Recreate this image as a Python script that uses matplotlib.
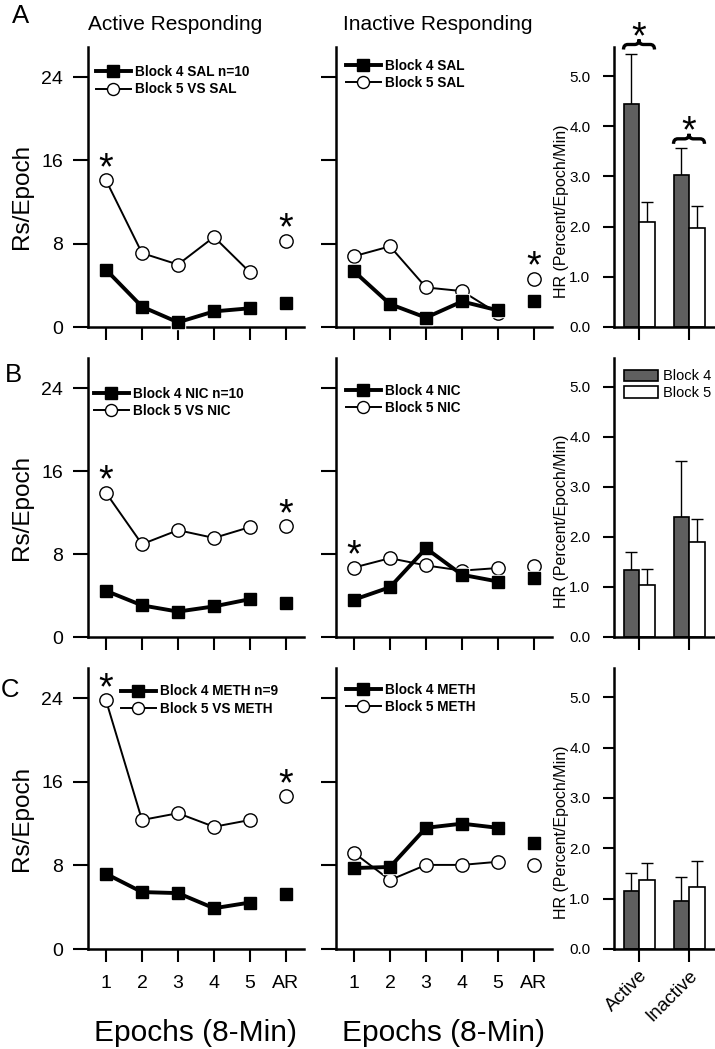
import numpy as np
import matplotlib
matplotlib.use('Agg')
import matplotlib.pyplot as plt
from matplotlib.path import Path
from matplotlib.patches import PathPatch, Patch

plt.rcParams['font.family'] = ['Liberation Sans', 'DejaVu Sans']

# ---- data ----
epochs = ['1', '2', '3', '4', '5', 'AR']
panels = ['A', 'B', 'C']

# rows: SAL, NIC, METH
act_b4 = [[5.5, 1.95, 0.45, 1.5, 1.8, 2.3],
          [4.45, 3.05, 2.45, 2.95, 3.65, 3.25],
          [7.2, 5.45, 5.35, 3.9, 4.45, 5.25]]
act_b5 = [[14.1, 7.1, 6.0, 8.65, 5.25, 8.3],
          [13.9, 8.95, 10.3, 9.55, 10.6, 10.7],
          [23.8, 12.35, 13.0, 11.7, 12.35, 14.6]]
inact_b4 = [[5.35, 2.2, 0.9, 2.45, 1.6, 2.5],
            [3.6, 4.8, 8.55, 6.0, 5.35, 5.65],
            [7.75, 7.85, 11.6, 12.0, 11.6, 10.15]]
inact_b5 = [[6.8, 7.75, 3.8, 3.45, 1.3, 4.65],
            [6.7, 7.6, 6.9, 6.4, 6.65, 6.85],
            [9.2, 6.6, 8.05, 8.05, 8.35, 8.05]]

act_stars = [[0, 5], [0, 5], [0, 5]]
inact_stars = [[5], [0], []]

act_labels = [['Block 4 SAL n=10', 'Block 5 VS SAL'],
              ['Block 4 NIC n=10', 'Block 5 VS NIC'],
              ['Block 4 METH n=9', 'Block 5 VS METH']]
inact_labels = [['Block 4 SAL', 'Block 5 SAL'],
                ['Block 4 NIC', 'Block 5 NIC'],
                ['Block 4 METH', 'Block 5 METH']]

hr_groups = ['Active', 'Inactive']
hr_b4 = [[4.45, 3.02], [1.35, 2.40], [1.15, 0.96]]
hr_b4_err = [[1.0, 0.55], [0.36, 1.12], [0.36, 0.47]]
hr_b5 = [[2.10, 1.97], [1.04, 1.90], [1.38, 1.23]]
hr_b5_err = [[0.39, 0.45], [0.32, 0.46], [0.33, 0.51]]
hr_sig = [[True, True], [False, False], [False, False]]

# ---- layout (pixels of the 715x1049 figure) ----
W, H = 715, 1049
cols = [(88, 304), (336, 552), (614, 715)]
rows = [(47, 327), (358, 637), (668, 949)]
act_leg = [(0.035, 0.936), (0.026, 0.897), (0.151, 0.942)]
inact_leg = [(0.044, 0.958), (0.044, 0.908), (0.044, 0.948)]
letter_pos = [(12, 23), (5, 382), (1, 697)]

fig = plt.figure(figsize=(W / 100, H / 100), dpi=100)


def rect(c, r):
    return [c[0] / W, 1 - r[1] / H, (c[1] - c[0]) / W, (r[1] - r[0]) / H]


def style(ax):
    for s in ['top', 'right']:
        ax.spines[s].set_visible(False)
    for s in ['left', 'bottom']:
        ax.spines[s].set_linewidth(1.8)


def line_panel(ax, b4, b5, labels, stars, anchor, bottom):
    x = np.arange(1, 7)
    l5, = ax.plot(x[:5], b5[:5], '-', color='k', lw=1.4, marker='o', ms=9.6,
                  mfc='white', mec='k', mew=1.0, zorder=3, clip_on=False)
    ax.plot(x[5], b5[5], 'o', ms=9.6, mfc='white', mec='k', mew=1.0, zorder=3, clip_on=False)
    ax.plot(x, b4, 's', ms=10.5, color='white', zorder=4, clip_on=False)
    l4, = ax.plot(x[:5], b4[:5], '-', color='k', lw=2.8, marker='s', ms=9,
                  zorder=5, clip_on=False)
    ax.plot(x[5], b4[5], 's', ms=9, color='k', zorder=5, clip_on=False)
    for i in stars:
        ax.annotate('*', (x[i], b5[i]), xytext=(0, 21), textcoords='offset points',
                    ha='center', va='top', fontsize=27)
    ax.legend([l4, l5], labels, loc='upper left', bbox_to_anchor=anchor, frameon=False,
              prop={'size': 9.8, 'weight': 'bold'}, handlelength=2.6, handletextpad=0.3,
              labelspacing=0.25, borderpad=0, borderaxespad=0, numpoints=1, markerscale=0.9)
    ax.set_xlim(0.5, 6.5)
    ax.set_ylim(0, 26.9)
    ax.set_xticks(x)
    ax.set_yticks([0, 8, 16, 24])
    ax.tick_params(axis='x', direction='out', length=9.5, width=1.5, labelsize=14, pad=9)
    ax.tick_params(axis='y', direction='out', length=11, width=1.5, labelsize=14, pad=7)
    if bottom:
        ax.set_xticklabels(epochs)
        ax.set_xlabel('Epochs (8-Min)', fontsize=21.5)
        ax.xaxis.set_label_coords(0.5, -0.25)
    else:
        ax.set_xticklabels([])
    style(ax)


def brace(ax, x0, x1, y, h):
    xm = (x0 + x1) / 2
    q = (x1 - x0) * 0.14
    verts = [(x0, y), (x0, y + h / 2), (x0 + q, y + h / 2),
             (xm - q, y + h / 2),
             (xm, y + h / 2), (xm, y + h),
             (xm, y + h / 2), (xm + q, y + h / 2),
             (x1 - q, y + h / 2),
             (x1, y + h / 2), (x1, y)]
    codes = [Path.MOVETO, Path.CURVE3, Path.CURVE3, Path.LINETO,
             Path.CURVE3, Path.CURVE3, Path.CURVE3, Path.CURVE3,
             Path.LINETO, Path.CURVE3, Path.CURVE3]
    ax.add_patch(PathPatch(Path(verts, codes), fill=False, lw=2.4, color='k', clip_on=False))
    ax.annotate('*', (xm, y + h), xytext=(0, 14), textcoords='offset points',
                ha='center', va='top', fontsize=27, annotation_clip=False)


def bar_panel(ax, b4, e4, b5, e5, sig, bottom, legend):
    x = np.arange(len(hr_groups))
    w = 0.31
    ax.bar(x - w / 2, b4, w, color='#5f5f5f', edgecolor='k', lw=1.2, zorder=2, label='Block 4')
    ax.bar(x + w / 2, b5, w, color='white', edgecolor='k', lw=1.2, zorder=2, label='Block 5')
    ax.errorbar(x - w / 2, b4, yerr=[np.zeros(len(x)), e4], fmt='none', ecolor='k',
                elinewidth=1, capsize=4.5, capthick=1, zorder=1)
    ax.errorbar(x + w / 2, b5, yerr=[np.zeros(len(x)), e5], fmt='none', ecolor='k',
                elinewidth=1, capsize=4.5, capthick=1, zorder=1)
    for i, s in enumerate(sig):
        if s:
            top = max(b4[i] + e4[i], b5[i] + e5[i])
            brace(ax, x[i] - w, x[i] + w, top + 0.08, 0.2)
    ax.set_xlim(-0.5, 1.52)
    ax.set_ylim(0, 5.58)
    ax.set_xticks(x)
    ax.set_yticks(np.arange(0, 6, 1.0))
    ax.set_yticklabels(['%.1f' % v for v in np.arange(0, 6, 1.0)])
    ax.tick_params(axis='x', direction='out', length=9.5, width=1.5)
    ax.tick_params(axis='y', direction='out', length=8, width=1.5, labelsize=11, pad=9)
    if bottom:
        ax.set_xticklabels(hr_groups, rotation=45, ha='right', rotation_mode='anchor',
                           fontsize=13.5)
    else:
        ax.set_xticklabels([])
    ax.set_ylabel('HR (Percent/Epoch/Min)', fontsize=11.5)
    ax.yaxis.set_label_coords(-0.445, 0.415)
    if legend:
        handles = [Patch(facecolor='#5f5f5f', edgecolor='k', lw=1.2),
                   Patch(facecolor='white', edgecolor='k', lw=1.2)]
        ax.legend(handles, ['Block 4', 'Block 5'], loc='upper left',
                  bbox_to_anchor=(0.099, 0.96), frameon=False, fontsize=10.5,
                  handlelength=2.3, handleheight=0.8, handletextpad=0.4,
                  labelspacing=0.2, borderpad=0, borderaxespad=0)
    style(ax)


for r in range(3):
    ax1 = fig.add_axes(rect(cols[0], rows[r]))
    line_panel(ax1, act_b4[r], act_b5[r], act_labels[r], act_stars[r], act_leg[r], r == 2)
    ax1.set_ylabel('Rs/Epoch', fontsize=17.5)
    ax1.yaxis.set_label_coords(-0.255, 0.465)

    ax2 = fig.add_axes(rect(cols[1], rows[r]))
    line_panel(ax2, inact_b4[r], inact_b5[r], inact_labels[r], inact_stars[r], inact_leg[r], r == 2)
    ax2.set_yticklabels([])

    ax3 = fig.add_axes(rect(cols[2], rows[r]))
    bar_panel(ax3, hr_b4[r], hr_b4_err[r], hr_b5[r], hr_b5_err[r], hr_sig[r], r == 2, r == 1)

    if r == 0:
        ax1.text(0.0, 1.061, 'Active Responding', transform=ax1.transAxes,
                 fontsize=15, ha='left', va='baseline')
        ax2.text(0.032, 1.061, 'Inactive Responding', transform=ax2.transAxes,
                 fontsize=15, ha='left', va='baseline')

    lx, ly = letter_pos[r]
    fig.text(lx / W, 1 - ly / H, panels[r], fontsize=18.5, ha='left', va='baseline')

fig.savefig('out.png', dpi=100)
